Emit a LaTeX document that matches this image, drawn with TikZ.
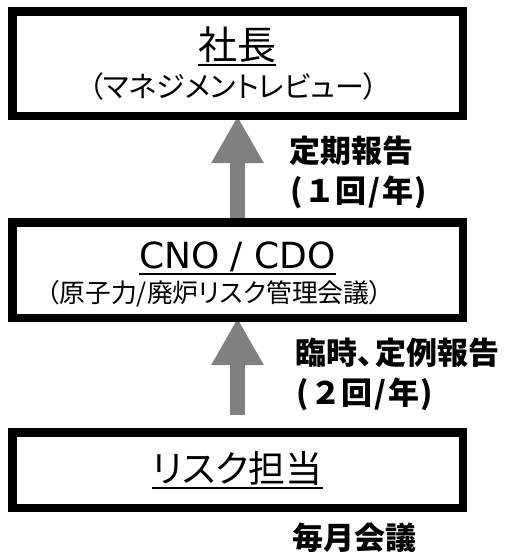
\documentclass[tikz,border=0pt]{standalone}
\usepackage{fontspec}
\setmainfont{Noto Sans CJK JP}
\newfontfamily\jpfont{Noto Sans CJK JP}[RawFeature=+palt]
\newfontfamily\latfont{DejaVu Sans}
\usetikzlibrary{arrows.meta,backgrounds}
\definecolor{arrowgray}{RGB}{128,128,128}
\newcommand\uline[1]{\vtop{\hbox{#1}\kern1pt\hrule height 2pt}}
\newcommand\hw[1]{\makebox[.5em]{#1}}
\tikzset{
  box/.style={draw, line width=8.5pt, minimum width=450.5pt, inner sep=0pt, align=center},
  uparrow/.style={line width=15pt, draw=arrowgray, -{Triangle[width=49pt,length=47pt]}},
  lbl/.style={font=\bfseries\fontsize{31}{40}\selectfont, align=left, inner sep=0pt, anchor=north west}
}
\begin{document}
\begin{tikzpicture}[x=1pt,y=-1pt]
        \useasboundingbox (0,0) rectangle (508,552);

        % Boxes
        \node[box, minimum height=104.5pt, font=\jpfont\fontsize{39}{38}\selectfont] (pres) at (237.5,63.5)
            {\uline{社長}\\{\fontsize{29}{29}\selectfont （マネジメントレビュー）}\hspace*{8pt}};
        \node[box, minimum height=95.5pt, font=\jpfont\fontsize{25.8}{34}\selectfont] (cno) at (237.5,270)
            {\rule{0pt}{36pt}{\latfont\fontsize{36}{36}\selectfont\uline{CNO / CDO}}\\（原子力/廃炉リスク管理会議）\hspace*{46pt}};
        \node[box, minimum height=75.5pt, font=\jpfont\fontsize{37}{37}\selectfont] (risk) at (237.5,470)
            {\uline{リスク担当}};

        % Reporting arrows
        \begin{scope}[on background layer]
            \draw[uparrow] (cno.north) -- ([yshift=4pt]pres.south);
            \draw[uparrow] ([yshift=13pt]risk.north) -- ([yshift=4pt]cno.south);
        \end{scope}

        % Labels
        \node[lbl] (rep1) at (289,136) {定期報告\\\hw{(}１回\hw{/}年\hw{)}};
        \node[lbl] (rep2) at (295,338) {臨時\makebox[.6em][l]{、}定例報告\\\hw{(}２回\hw{/}年\hw{)}};
        \node[lbl] (mtg) at (292,523) {毎月会議};
\end{tikzpicture}
\end{document}
